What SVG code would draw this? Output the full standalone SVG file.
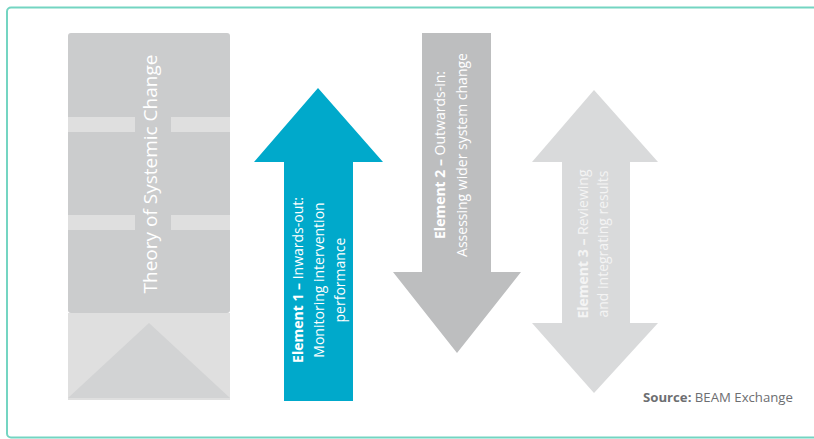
<svg xmlns="http://www.w3.org/2000/svg" width="814" height="439" viewBox="0 0 814 439">
<style>
.t{font-family:"Open Sans","Liberation Sans",sans-serif;fill:#ffffff}
.b{font-weight:700}
.lbl{font-size:14px}
</style>
<rect x="0" y="0" width="814" height="439" fill="#ffffff"/>
<rect id="frame" x="7" y="7.5" width="840" height="430" rx="4" fill="none" stroke="#74d5c2" stroke-width="2"/>
<g id="toc">
  <rect x="68" y="33" width="162" height="280" rx="3" fill="#cbcccd"/>
  <rect x="68" y="117" width="67" height="15" fill="#dfdfdf"/>
  <rect x="171" y="117" width="59" height="15" fill="#dfdfdf"/>
  <rect x="68" y="215" width="67" height="15" fill="#dfdfdf"/>
  <rect x="171" y="215" width="59" height="15" fill="#dfdfdf"/>
  <rect x="68" y="313" width="162" height="87" fill="#dfdfdf"/>
  <polygon points="149,323 230,398 68,398" fill="#d2d3d4"/>
  <text class="t" font-size="19" transform="translate(157,174) rotate(-90)" text-anchor="middle">Theory of Systemic Change</text>
</g>
<g id="element1">
  <polygon points="318,88 383,162 353,162 353,401 284,401 284,162 254,162" fill="#00a9cb"/>
  <g transform="translate(303,280) rotate(-90)" class="t lbl" text-anchor="middle">
    <text y="0"><tspan class="b">Element 1 –</tspan> Inwards-out:</text>
    <text y="21">Monitoring intervention</text>
    <text y="42">performance</text>
  </g>
</g>
<g id="element2">
  <polygon points="422,33 491,33 491,272 521,272 457,353 393,272 422,272" fill="#bdbebf"/>
  <g transform="translate(445,155) rotate(-90)" class="t lbl" text-anchor="middle">
    <text y="0"><tspan class="b">Element 2 –</tspan> Outwards-in:</text>
    <text y="22">Assessing wider system change</text>
  </g>
</g>
<g id="element3">
  <polygon points="594,90 658,162 630,162 630,323 658,323 594,393 532,323 562,323 562,162 532,162" fill="#d9dadb"/>
  <g transform="translate(588,244) rotate(-90)" class="t lbl" text-anchor="middle">
    <text y="0" fill="#f4f4f4"><tspan class="b">Element 3 –</tspan> Reviewing</text>
    <text y="20" fill="#f4f4f4">and integrating results</text>
  </g>
</g>
<g id="source">
  <text x="643" y="402" font-family="'Open Sans','Liberation Sans',sans-serif" font-size="13.2" fill="#6d6e71"><tspan font-weight="700">Source:</tspan> BEAM Exchange</text>
</g>
</svg>
